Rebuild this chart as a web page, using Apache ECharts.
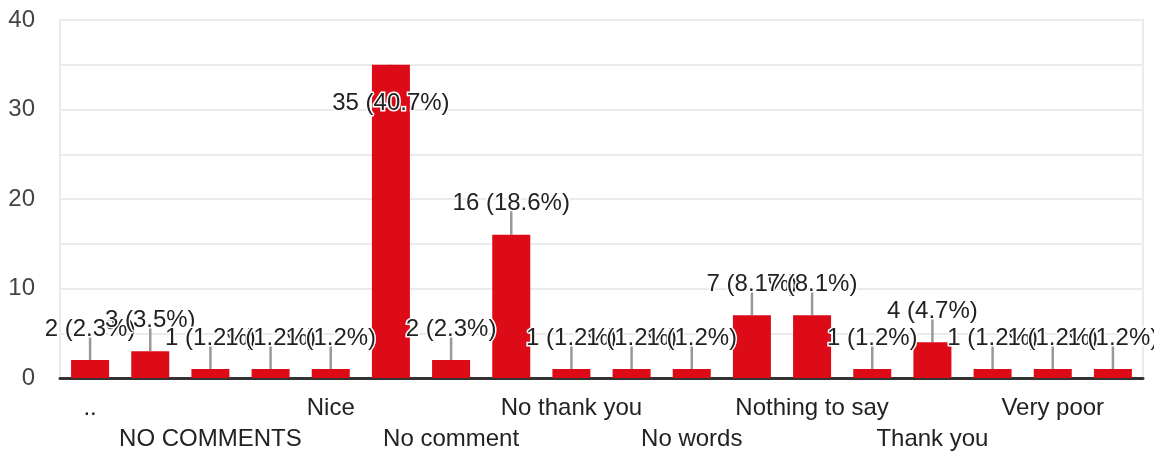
<!DOCTYPE html>
<html>
<head>
<meta charset="utf-8">
<script src="https://cdn.jsdelivr.net/npm/echarts@6/dist/echarts.min.js"></script>
<style>html,body{margin:0;padding:0;background:#fff}#c{width:1154px;height:453px}</style>
</head>
<body>
<div id="c"></div>
<script>
const categories = ["..", "...", "NO COMMENTS", "NOTHING", "Nice", "No", "No comment", "No comments", "No thank you", "No thanks", "No words", "Nothing", "Nothing to say", "Ok", "Thank you", "Very good", "Very poor", "no"];
const counts = [2, 3, 1, 1, 1, 35, 2, 16, 1, 1, 1, 7, 7, 1, 4, 1, 1, 1];
const yTicks = [0, 10, 20, 30, 40];

const total = counts.reduce((a, b) => a + b, 0);
const insideFrom = 33; // labels for values this high go inside the bar
const font = '"Liberation Sans", Arial, sans-serif';

const chart = echarts.init(document.getElementById('c'), null, {renderer: 'canvas'});
chart.setOption({
  animation: false,
  grid: {left: 60, right: 11, top: 20, bottom: 75, outerBoundsMode: 'none', containLabel: false,
         show: true, borderColor: '#ebebeb', borderWidth: 2, backgroundColor: 'transparent'},
  xAxis: {
    type: 'category',
    data: categories,
    axisTick: {show: false},
    axisLine: {lineStyle: {color: '#333', width: 3}},
    axisLabel: {
      interval: 1,
      margin: 15,
      fontSize: 24,
      lineHeight: 31,
      fontFamily: font,
      color: '#222',
      formatter: (v, i) => ((i / 2) % 2 === 1 ? '\n' + v : v)
    }
  },
  yAxis: {
    type: 'value',
    min: 0,
    max: 40,
    interval: 5,
    axisLine: {show: false},
    axisTick: {show: false},
    splitLine: {lineStyle: {color: '#ebebeb', width: 2}},
    axisLabel: {
      margin: 25,
      fontSize: 24,
      fontFamily: font,
      color: '#444',
      padding: [4, 0, 0, 0],
      formatter: v => (yTicks.indexOf(v) >= 0 ? String(v) : '')
    }
  },
  series: [
    {
      type: 'custom',
      z: 1,
      silent: true,
      data: counts.map((v, i) => [i, v]),
      encode: {x: 0, y: 1},
      renderItem: (params, api) => {
        const v = api.value(1);
        const p = api.coord([api.value(0), v]);
        const inside = v >= insideFrom;
        const y2 = inside ? p[1] + 18 : p[1] - 24;
        return {
          type: 'line',
          shape: {x1: p[0], y1: p[1], x2: p[0], y2: y2},
          style: {stroke: '#999', lineWidth: 2.5}
        };
      }
    },
    {
      type: 'bar',
      z: 2,
      barWidth: 38,
      itemStyle: {color: '#dd0a17'},
      data: counts.map(v => v >= insideFrom
        ? {value: v, label: {position: 'insideTop', distance: 27}}
        : v),
      label: {
        show: true,
        position: 'top',
        distance: 19,
        fontSize: 24,
        lineHeight: 24,
        fontFamily: font,
        color: '#222',
        textBorderColor: '#fff',
        textBorderWidth: 3,
        formatter: p => p.value + ' (' + (p.value / total * 100).toFixed(1) + '%)'
      }
    }
  ]
});
</script>
</body>
</html>
